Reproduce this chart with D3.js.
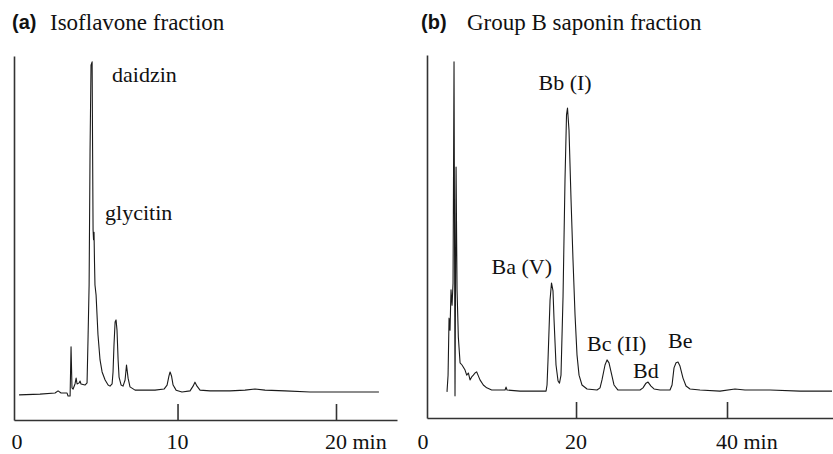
<!DOCTYPE html>
<html>
<head>
<meta charset="utf-8">
<script src="https://cdn.jsdelivr.net/npm/d3@7"></script>
<style>
  html, body { margin: 0; padding: 0; background: #fff; }
  svg { display: block; }
</style>
</head>
<body>
<svg id="chart" width="833" height="454"></svg>
<script>
// ---------- DATA ----------
// Panel (a): Isoflavone fraction — retention time (min) and detector signal (arbitrary units, 0–100)
const timeA = [0, 1.32, 2.27, 2.46, 2.65, 3.03, 3.09, 3.22, 3.28, 3.34, 3.41, 3.53, 3.60, 3.66, 3.79, 3.85, 3.91,
  4.16, 4.29, 4.35, 4.42, 4.48, 4.54, 4.61, 4.64, 4.67, 4.70, 4.73, 4.76, 4.79, 4.86, 4.98, 5.11, 5.24, 5.43,
  5.62, 5.74, 5.87, 5.93, 5.99, 6.06, 6.12, 6.18, 6.25, 6.31, 6.44, 6.56, 6.69, 6.78, 6.88, 7.00, 7.32, 7.95,
  8.58, 9.15, 9.34, 9.46, 9.53, 9.62, 9.72, 9.91, 10.28, 10.79, 10.98, 11.10, 11.23, 11.42, 12.05, 13.31,
  14.26, 14.89, 15.52, 16.78, 18.36, 20.25, 22.71];
const signalA = [6.9, 7.1, 7.4, 8.0, 7.4, 7.4, 6.6, 6.6, 20.1, 8.8, 8.5, 9.9, 11.5, 9.9, 10.2, 10.7, 9.9,
  9.6, 10.2, 22.0, 37.1, 74.2, 97.5, 98.4, 74.2, 52.2, 49.5, 51.6, 43.4, 37.1, 34.3, 23.4, 16.5, 13.2, 11.0,
  9.6, 9.3, 9.9, 13.2, 20.6, 26.9, 27.5, 24.7, 16.5, 11.8, 9.6, 9.3, 11.0, 15.1, 11.5, 9.1, 8.2, 8.2,
  8.2, 8.5, 9.6, 12.1, 13.2, 12.1, 9.6, 8.2, 7.7, 8.0, 9.3, 10.4, 9.3, 8.2, 8.0, 8.0,
  8.2, 8.5, 8.2, 8.0, 7.7, 7.7, 7.7];

// Panel (b): Group B saponin fraction
const timeB = [2.91, 3.05, 3.18, 3.31, 3.44, 3.58, 3.71, 3.84, 3.97, 4.11, 4.24, 4.41, 4.64, 4.90, 5.08, 5.30,
  5.52, 5.74, 5.96, 6.18, 6.40, 6.62, 6.84, 7.06, 7.28, 7.72, 8.17, 8.83, 9.54, 10.60, 10.73, 10.86, 12.58, 16.03,
  16.16, 16.29, 16.56, 16.75, 16.95, 17.09, 17.35, 17.62, 17.81, 18.01, 18.28, 18.54, 18.74, 18.87, 19.07,
  19.34, 19.60, 19.87, 20.13, 20.40, 20.79, 21.46, 22.78, 23.18, 23.44, 23.84, 24.11, 24.37, 24.64, 25.03,
  25.56, 28.48, 28.87, 29.27, 29.54, 29.93, 30.33, 31.13, 32.45, 32.72, 32.98, 33.25, 33.51, 33.77, 34.17,
  34.57, 35.10, 36.42, 39.07, 41.06, 42.38, 45.70, 49.67, 53.91];
const signalB = [7.2, 11.8, 27.5, 24.2, 35.3, 31.1, 37.2, 98.1, 6.1, 69.1, 35.3, 22.3, 15.2, 14.6, 14.0, 13.2,
  11.8, 12.4, 10.5, 11.3, 11.8, 12.4, 12.7, 11.6, 10.5, 9.1, 8.3, 7.7, 7.7, 7.7, 8.5, 7.7, 7.4, 7.4,
  9.1, 16.0, 32.5, 37.2, 35.0, 27.0, 14.6, 10.2, 9.6, 11.8, 33.5, 65.6, 83.5, 85.4, 79.3,
  60.1, 43.5, 28.4, 17.4, 11.8, 9.1, 8.0, 7.7, 8.3, 10.5, 14.6, 16.0, 15.2, 12.7, 9.1,
  7.7, 7.7, 8.3, 9.6, 9.9, 8.8, 8.0, 7.7, 7.7, 9.1, 13.8, 15.2, 15.4, 14.3, 11.0,
  8.8, 8.0, 7.7, 7.4, 8.0, 7.7, 7.7, 7.4, 7.4];

// Tick labels
const ticksA = [0, 10, 20];
const ticksB = [0, 20, 40];
const timeUnit = "min";

// Titles
const panelLetters = ["(a)", "(b)"];
const panelTitles = ["Isoflavone fraction", "Group B saponin fraction"];

// Peak annotations: name and retention time of the peak they label
const peaksA = ["daidzin", "glycitin"];
const peakTimesA = [4.61, 4.70];
const peaksB = ["Ba (V)", "Bb (I)", "Bc (II)", "Bd", "Be"];
const peakTimesB = [16.75, 18.87, 24.11, 29.54, 33.51];

// ---------- LAYOUT ----------
const svg = d3.select("#chart");
const serif = "'Liberation Serif', 'Times New Roman', serif";
const sans = "'Liberation Sans', Arial, sans-serif";

const panels = [
  { times: timeA, signal: signalA, ticks: ticksA, letter: panelLetters[0], title: panelTitles[0],
    xDomain: [-0.32, 23.85], xRange: [14, 397], yRange: [420, 56],
    letterX: 12, titleX: 50,
    peaks: peaksA, peakTimes: peakTimesA,
    // label offsets relative to (x(peak time), y(signal at peak))
    offsets: [[20, 20], [11.5, -20]] },
  { times: timeB, signal: signalB, ticks: ticksB, letter: panelLetters[1], title: panelTitles[1],
    xDomain: [0.26, 54.04], xRange: [427, 833], yRange: [418, 55],
    letterX: 421, titleX: 467,
    peaks: peaksB, peakTimes: peakTimesB,
    offsets: [[-60, -9], [-29, -18], [-20, -9], [-15, -4], [-10, -14]] }
];

panels.forEach(p => {
  const x = d3.scaleLinear().domain(p.xDomain).range(p.xRange);
  const y = d3.scaleLinear().domain([0, 100]).range(p.yRange);
  const g = svg.append("g");

  // x axis with upward inner ticks (no tick at 0)
  const xAxis = d3.axisBottom(x)
    .tickValues(p.ticks.filter(t => t !== 0))
    .tickSizeInner(-16).tickSizeOuter(0).tickFormat("");
  const gx = g.append("g").attr("transform", `translate(0,${p.yRange[0]})`).call(xAxis);
  gx.selectAll("path, line").attr("stroke", "#333").attr("stroke-width", 1.6);

  // y axis: plain line
  const yAxis = d3.axisLeft(y).tickValues([]).tickSizeOuter(0);
  const gy = g.append("g").attr("transform", `translate(${p.xRange[0]},0)`).call(yAxis);
  gy.selectAll("path").attr("stroke", "#333").attr("stroke-width", 1.6);

  // tick labels
  const labY = 449;
  p.ticks.forEach((t, i) => {
    const last = i === p.ticks.length - 1;
    const txt = g.append("text")
      .attr("font-family", serif).attr("font-size", 22).attr("fill", "#111")
      .attr("y", labY).text(String(t));
    const w = txt.node().getComputedTextLength();
    const cx = t === 0 ? x(0) - 2 : x(t);
    txt.attr("x", cx - w / 2);
    if (last) txt.text(`${t} ${timeUnit}`);
  });

  // trace
  const pts = p.times.map((t, i) => [t, p.signal[i]]);
  const line = d3.line().x(d => x(d[0])).y(d => y(d[1]));
  g.append("path").datum(pts).attr("d", line)
    .attr("fill", "none").attr("stroke", "#1a1a1a").attr("stroke-width", 1.1)
    .attr("stroke-linejoin", "round");

  // titles
  g.append("text").attr("x", p.letterX).attr("y", 29)
    .attr("font-family", sans).attr("font-weight", "bold").attr("font-size", 20).attr("fill", "#111")
    .text(p.letter);
  g.append("text").attr("x", p.titleX).attr("y", 30)
    .attr("font-family", serif).attr("font-size", 23).attr("fill", "#111")
    .text(p.title);

  // peak annotations
  p.peaks.forEach((name, i) => {
    const t = p.peakTimes[i];
    const idx = d3.minIndex(p.times, tt => Math.abs(tt - t));
    const px = x(t), py = y(p.signal[idx]);
    g.append("text")
      .attr("x", px + p.offsets[i][0]).attr("y", py + p.offsets[i][1])
      .attr("font-family", serif).attr("font-size", 22).attr("fill", "#111")
      .text(name);
  });
});
</script>
</body>
</html>
